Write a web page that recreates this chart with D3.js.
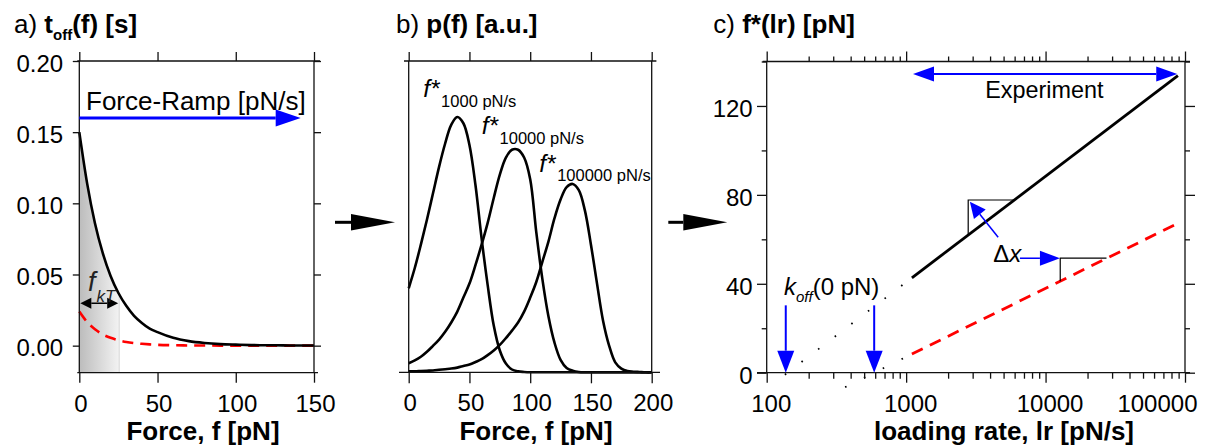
<!DOCTYPE html>
<html>
<head>
<meta charset="utf-8">
<script src="https://cdn.jsdelivr.net/npm/d3@7"></script>
<style>
  body { margin: 0; background: #fff; }
  svg { display: block; font-family: "Liberation Sans", Arial, sans-serif; }
</style>
</head>
<body>
<div class="canvas"></div>
<script>
// ---- panel a: lifetime t_off(f) ----
const forceA = [0, 5, 10, 15, 20, 25, 30, 35, 40, 45, 50, 60, 70, 80, 90, 100, 110, 120, 130, 140, 150];
const toffSolid = [0.150, 0.114, 0.086, 0.065, 0.049, 0.037, 0.028, 0.021, 0.016, 0.012, 0.0095, 0.0055, 0.0032, 0.0019, 0.0011, 0.0007, 0.0004, 0.0003, 0.0002, 0.0001, 0.0001];
const toffDashed = [0.024, 0.0166, 0.0115, 0.0079, 0.0055, 0.0038, 0.0026, 0.0018, 0.0013, 0.0009, 0.0006, 0.0003, 0.00015, 0.0001, 0.00005, 0, 0, 0, 0, 0, 0];
const ticksA_x = [0, 50, 100, 150];
const ticksA_y = [0, 0.05, 0.10, 0.15, 0.20];
const fkT = 25.5;
const fkTArrowLevel = 0.0298;
const fkTEdgeTop = 0.036;
const rampLevel = 0.16;
const rampEnd = 141.5;

// ---- panel b: rupture force distributions p(f) ----
const forceB = d3.range(0, 201, 5);
const pf1000 = [0.27, 0.335, 0.41, 0.49, 0.575, 0.66, 0.735, 0.795, 0.82, 0.80,
  0.73, 0.60, 0.43, 0.28, 0.15, 0.07, 0.028, 0.009, 0.003, 0.001,
  0, 0, 0, 0, 0, 0, 0, 0, 0, 0, 0, 0, 0, 0, 0, 0, 0, 0, 0, 0, 0];
const pf10000 = [0.029, 0.038, 0.05, 0.066, 0.085, 0.105, 0.13, 0.16, 0.195, 0.24,
  0.285, 0.345, 0.41, 0.48, 0.56, 0.635, 0.69, 0.715, 0.715, 0.69,
  0.62, 0.45, 0.30, 0.18, 0.095, 0.04, 0.014, 0.005, 0.001, 0,
  0, 0, 0, 0, 0, 0, 0, 0, 0, 0, 0];
const pf100000 = [0.003, 0.003, 0.004, 0.005, 0.006, 0.008, 0.010, 0.012, 0.015, 0.02,
  0.025, 0.033, 0.042, 0.055, 0.07, 0.088, 0.11, 0.134, 0.16, 0.195,
  0.24, 0.29, 0.355, 0.42, 0.495, 0.555, 0.595, 0.605, 0.585, 0.52,
  0.41, 0.285, 0.165, 0.085, 0.032, 0.012, 0.004, 0.002, 0.001, 0, 0];
const ticksB_x = [0, 50, 100, 150, 200];
const peakLabels = [
  { sub: "1000 pN/s", f: 12, p: 0.884 },
  { sub: "10000 pN/s", f: 60.1, p: 0.765 },
  { sub: "100000 pN/s", f: 107.5, p: 0.645 }
];

// ---- panel c: most probable rupture force f*(lr) ----
const lrModel = [1100, 89000];
const fStarSolid = [42.7, 133.6];
const fStarDashed = [8.4, 67.2];
const lrExtraSolid = [135, 1100];
const fExtraSolid = [-0.9, 42.7];
const lrExtraDashed = [365, 1100];
const fExtraDashed = [-6.5, 8.4];
const lrZero = [137, 590];
const experimentRange = [1120, 88000];
const experimentLevel = 134.4;
const stepSolid = { lr: [2787, 6026], f: [61.8, 77.7] };
const stepDashed = { lr: [12740, 27350], f: [41.1, 51.5] };
const ticksC_y = [0, 20, 40, 60, 80, 100, 120, 140];
const labelsC_y = [0, 40, 80, 120];
const decadesC = [100, 1000, 10000];

const svg = d3.select(".canvas").append("svg")
  .attr("width", 1214).attr("height", 446);

const ink = "#111";
const blue = "#0000ff";
const red = "#ff0000";

function arrow(g, x1, y1, x2, y2, o) {
  const dx = x2 - x1, dy = y2 - y1, len = Math.hypot(dx, dy);
  const ux = dx / len, uy = dy / len;
  const bx = x2 - ux * o.head, by = y2 - uy * o.head;
  let sx = x1, sy = y1;
  if (o.both) { sx = x1 + ux * o.head; sy = y1 + uy * o.head; }
  g.append("line").attr("x1", sx).attr("y1", sy).attr("x2", bx).attr("y2", by)
    .attr("stroke", o.color).attr("stroke-width", o.width);
  const head = (tx, ty, vx, vy) => {
    const px = tx - vx * o.head, py = ty - vy * o.head;
    g.append("path")
      .attr("d", `M${tx},${ty}L${px - vy * o.half},${py + vx * o.half}L${px + vy * o.half},${py - vx * o.half}Z`)
      .attr("fill", o.color);
  };
  head(x2, y2, ux, uy);
  if (o.both) head(x1, y1, -ux, -uy);
}

function frame(g, x, y, ext) {
  const [x0, x1] = x.range(), [y0, y1] = y.range();
  g.append("path")
    .attr("d", `M${x0 - ext.bl},${y0}H${x1 + ext.br}M${x0 - ext.tl},${y1}H${x1 + ext.tr}M${x0},${y0}V${y1}M${x1},${y0}V${y1}`)
    .attr("fill", "none").attr("stroke", ink).attr("stroke-width", 1.3);
}

function styleAxis(sel) {
  sel.select(".domain").remove();
  sel.selectAll("line").attr("stroke", ink).attr("stroke-width", 1.3);
  sel.selectAll("text").attr("fill", "#000").style("font-size", "24px")
    .style("font-family", "'Liberation Sans', Arial, sans-serif");
}

function title(x, y, plain, parts) {
  const t = svg.append("text").attr("x", x).attr("y", y).style("font-size", "26px").attr("fill", "#000");
  t.append("tspan").text(plain);
  parts.forEach(p => {
    t.append("tspan").text(p.text).style("font-weight", "bold")
      .style("font-size", p.size || "26px").attr("dy", p.dy || 0);
  });
}

function axisLabel(x, y, txt) {
  svg.append("text").attr("x", x).attr("y", y).attr("text-anchor", "middle")
    .style("font-size", "26px").style("font-weight", "bold").attr("fill", "#000").text(txt);
}

/* ===== Panel a ===== */
const xA = d3.scaleLinear().domain([0, 150]).range([79.3, 314]);
const yA = d3.scaleLinear().domain([-0.019, 0.2]).range([372.7, 61]);
const gA = svg.append("g");
const dataA = forceA.map((f, i) => ({ f, s: toffSolid[i], d: toffDashed[i] }));

const defs = svg.append("defs");
const grad = defs.append("linearGradient").attr("id", "shade")
  .attr("gradientUnits", "userSpaceOnUse")
  .attr("x1", xA(0)).attr("x2", xA(fkT)).attr("y1", 0).attr("y2", 0);
grad.append("stop").attr("offset", 0).attr("stop-color", "#bcbcbc");
grad.append("stop").attr("offset", 1).attr("stop-color", "#f3f3f3");
defs.append("clipPath").attr("id", "clipFkT").append("rect")
  .attr("x", xA(0)).attr("y", yA.range()[1]).attr("width", xA(fkT) - xA(0))
  .attr("height", yA.range()[0] - yA.range()[1]);

gA.append("path").datum(dataA)
  .attr("clip-path", "url(#clipFkT)")
  .attr("fill", "url(#shade)")
  .attr("d", d3.area().curve(d3.curveMonotoneX).x(d => xA(d.f)).y0(yA.range()[0]).y1(d => yA(d.s)));
gA.append("line").attr("x1", xA(fkT)).attr("x2", xA(fkT))
  .attr("y1", yA.range()[0]).attr("y2", yA(fkTEdgeTop))
  .attr("stroke", "#d6d6d6").attr("stroke-width", 1);

gA.append("path").datum(dataA).attr("fill", "none").attr("stroke", red)
  .attr("stroke-width", 2.6).attr("stroke-dasharray", "11,7")
  .attr("d", d3.line().curve(d3.curveMonotoneX).x(d => xA(d.f)).y(d => yA(d.d)));
gA.append("path").datum(dataA).attr("fill", "none").attr("stroke", "#000")
  .attr("stroke-width", 2.6)
  .attr("d", d3.line().curve(d3.curveMonotoneX).x(d => xA(d.f)).y(d => yA(d.s)));

gA.append("g").attr("transform", `translate(${xA.range()[0]},0)`)
  .call(d3.axisLeft(yA).tickValues(ticksA_y).tickSize(6.5).tickPadding(9.7).tickFormat(d3.format(".2f")))
  .call(styleAxis).selectAll("text").attr("dy", "0.43em");
gA.append("g").attr("transform", `translate(${xA.range()[1]},0)`)
  .call(d3.axisRight(yA).tickValues(ticksA_y).tickSize(7).tickFormat("")).call(styleAxis);
gA.append("g").attr("transform", `translate(0,${yA.range()[1]})`)
  .call(d3.axisTop(xA).tickValues(ticksA_x).tickSize(9).tickFormat("")).call(styleAxis);
gA.append("g").attr("transform", `translate(0,${yA.range()[0]})`)
  .call(d3.axisBottom(xA).tickValues(ticksA_x).tickSize(10).tickPadding(12))
  .call(styleAxis).selectAll("text").attr("dx", "1");
frame(gA, xA, yA, { bl: 2, br: 4, tl: 2, tr: 6 });

arrow(gA, xA(0), yA(rampLevel), xA(rampEnd), yA(rampLevel), { color: blue, width: 3, head: 25, half: 8.5 });
gA.append("text").attr("x", xA(4.3)).attr("y", yA(0.1655)).style("font-size", "26px").text("Force-Ramp [pN/s]");

arrow(gA, xA(0) + 1, yA(fkTArrowLevel), xA(fkT) - 1, yA(fkTArrowLevel), { color: "#000", width: 1.5, head: 11, half: 5.5, both: true });
const fkTLabel = gA.append("text").attr("x", xA(5.6)).attr("y", yA(0.0387)).attr("fill", "#222");
fkTLabel.append("tspan").text("f").style("font-style", "italic").style("font-size", "27px");
fkTLabel.append("tspan").text("kT").style("font-style", "italic").style("font-size", "17px").attr("dx", 1).attr("dy", 11);

title(14, 33.3, "a) ", [{ text: "t" }, { text: "off", size: "15px", dy: 7 }, { text: "(f) [s]", dy: -7 }]);
axisLabel(203, 439.5, "Force, f [pN]");

/* ===== Panel b ===== */
const xB = d3.scaleLinear().domain([0, 200]).range([408.7, 651.7]);
const yB = d3.scaleLinear().domain([0, 1]).range([372.3, 61]);
const gB = svg.append("g");
[pf1000, pf10000, pf100000].forEach(series => {
  gB.append("path").datum(forceB.map((f, i) => ({ f, p: series[i] })))
    .attr("fill", "none").attr("stroke", "#000").attr("stroke-width", 2.6)
    .attr("d", d3.line().curve(d3.curveCatmullRom.alpha(0.5)).x(d => xB(d.f)).y(d => yB(Math.max(0, d.p))));
});
gB.append("g").attr("transform", `translate(0,${yB.range()[1]})`)
  .call(d3.axisTop(xB).tickValues(ticksB_x).tickSize(9).tickFormat("")).call(styleAxis);
gB.append("g").attr("transform", `translate(0,${yB.range()[0]})`)
  .call(d3.axisBottom(xB).tickValues(ticksB_x).tickSize(11).tickPadding(11))
  .call(styleAxis).selectAll("text").attr("dx", "1");
frame(gB, xB, yB, { bl: 9.7, br: 8.3, tl: 4.7, tr: 4.7 });

peakLabels.forEach(l => {
  const t = gB.append("text").attr("x", xB(l.f)).attr("y", yB(l.p)).attr("fill", "#000");
  t.append("tspan").text("f*").style("font-style", "italic").style("font-size", "24.5px");
  t.append("tspan").text(l.sub).style("font-size", "16.5px").attr("dx", 1.5).attr("dy", 9.5);
});

title(396, 33.3, "b) ", [{ text: "p(f) [a.u.]" }]);
axisLabel(536, 440, "Force, f [pN]");

/* ===== Panel c ===== */
const xC = d3.scaleLog().domain([100, 100000]).range([766.7, 1185]);
const yC = d3.scaleLinear().domain([0, 140]).range([372.7, 61.5]);
const gC = svg.append("g");

const logTicks = [];
decadesC.forEach(d => { for (let k = 1; k < 10; k++) logTicks.push(d * k); });
logTicks.push(100000);
const isMajor = v => Math.abs(Math.log10(v) - Math.round(Math.log10(v))) < 1e-9;

// extrapolations down to f* = 0 (sparse dots)
gC.append("path").datum(lrExtraSolid.map((lr, i) => ({ lr, f: fExtraSolid[i] })))
  .attr("fill", "none").attr("stroke", "#000").attr("stroke-width", 1.8).attr("stroke-dasharray", "1.6,19.3")
  .attr("d", d3.line().x(d => xC(d.lr)).y(d => yC(d.f)));
gC.append("path").datum(lrExtraDashed.map((lr, i) => ({ lr, f: fExtraDashed[i] })))
  .attr("fill", "none").attr("stroke", "#000").attr("stroke-width", 1.8).attr("stroke-dasharray", "1.6,19.4")
  .attr("d", d3.line().x(d => xC(d.lr)).y(d => yC(d.f)));

gC.append("path").datum(lrModel.map((lr, i) => ({ lr, f: fStarDashed[i] })))
  .attr("fill", "none").attr("stroke", red).attr("stroke-width", 2.8).attr("stroke-dasharray", "12,8")
  .attr("d", d3.line().x(d => xC(d.lr)).y(d => yC(d.f)));
gC.append("path").datum(lrModel.map((lr, i) => ({ lr, f: fStarSolid[i] })))
  .attr("fill", "none").attr("stroke", "#000").attr("stroke-width", 2.8)
  .attr("d", d3.line().x(d => xC(d.lr)).y(d => yC(d.f)));

[stepSolid, stepDashed].forEach(s => {
  gC.append("path").attr("fill", "none").attr("stroke", "#000").attr("stroke-width", 1.2)
    .attr("d", `M${xC(s.lr[0])},${yC(s.f[0])}V${yC(s.f[1])}H${xC(s.lr[1])}`);
});

gC.append("g").attr("transform", `translate(${xC.range()[0]},0)`)
  .call(d3.axisLeft(yC).tickValues(ticksC_y).tickSize(9.7).tickPadding(4.3)
    .tickFormat(v => labelsC_y.includes(v) ? v : ""))
  .call(styleAxis)
  .call(g => g.selectAll(".tick").filter(v => !labelsC_y.includes(v)).select("line").attr("x2", -5))
  .selectAll("text").attr("dy", "0.43em");
gC.append("g").attr("transform", `translate(${xC.range()[1]},0)`)
  .call(d3.axisRight(yC).tickValues(ticksC_y).tickSize(10).tickFormat(""))
  .call(styleAxis)
  .call(g => g.selectAll(".tick").filter(v => !labelsC_y.includes(v)).select("line").attr("x2", 5));
gC.append("g").attr("transform", `translate(0,${yC.range()[1]})`)
  .call(d3.axisTop(xC).tickValues(logTicks).tickSize(10).tickFormat(""))
  .call(styleAxis)
  .call(g => g.selectAll(".tick").filter(v => !isMajor(v)).select("line").attr("y2", -5));
gC.append("g").attr("transform", `translate(0,${yC.range()[0]})`)
  .call(d3.axisBottom(xC).tickValues(logTicks).tickSize(10).tickPadding(12)
    .tickFormat(v => isMajor(v) ? d3.format("d")(v) : ""))
  .call(styleAxis)
  .call(g => g.selectAll(".tick").filter(v => !isMajor(v)).select("line").attr("y2", 6))
  .call(g => g.selectAll(".tick text").attr("dx", 4))
  .call(g => g.selectAll(".tick").filter(v => v === 100000).select("text").attr("text-anchor", "end").attr("dx", 12));
frame(gC, xC, yC, { bl: 9.7, br: 5, tl: 4, tr: 5 });

arrow(gC, xC(experimentRange[0]), yC(experimentLevel), xC(experimentRange[1]), yC(experimentLevel),
  { color: blue, width: 2, head: 21, half: 7.5, both: true });
gC.append("text").attr("x", xC(9800)).attr("y", yC(123.5)).attr("text-anchor", "middle")
  .style("font-size", "23.4px").text("Experiment");

arrow(gC, xC(4570), yC(60.9), xC(2865), yC(76.9), { color: blue, width: 1.5, head: 16, half: 7.5 });
arrow(gC, xC(6550), yC(51.5), xC(12680), yC(51.5), { color: blue, width: 1.5, head: 20, half: 7.5 });
const dxLabel = gC.append("text").attr("x", xC(4210)).attr("y", yC(49.9)).style("font-size", "24px");
dxLabel.append("tspan").text("Δ");
dxLabel.append("tspan").text("x").style("font-style", "italic");

lrZero.forEach(lr => {
  arrow(gC, xC(lr), yC(30.3), xC(lr), yC(0), { color: blue, width: 2, head: 22, half: 8.5 });
});
const koff = gC.append("text").attr("x", xC(133)).attr("y", yC(35)).style("font-size", "24px");
koff.append("tspan").text("k").style("font-style", "italic");
koff.append("tspan").text("off").style("font-style", "italic").style("font-size", "15px").attr("dy", 6.7);
koff.append("tspan").text("(0 pN)").attr("dy", -6.7);

title(713.3, 33.3, "c) ", [{ text: "f*(lr) [pN]" }]);
axisLabel(1004, 439.5, "loading rate, lr [pN/s]");

/* ===== arrows between panels ===== */
const flowY = 222.3;
arrow(svg, 335, flowY, 395, flowY, { color: "#000", width: 3, head: 44, half: 8.3 });
arrow(svg, 668.3, flowY, 727.3, flowY, { color: "#000", width: 3, head: 44, half: 8.3 });
</script>
</body>
</html>
